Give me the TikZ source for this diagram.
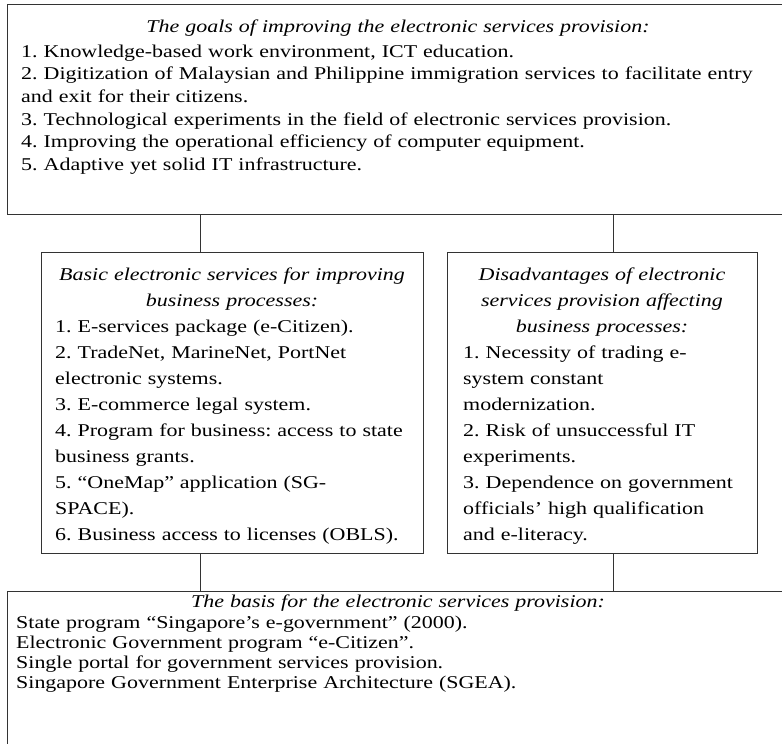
\documentclass[tikz,border=0pt]{standalone}
\usepackage{fontspec}
\setmainfont{Liberation Serif}[FakeStretch=1.22]
\usepackage{tikz}

\newcommand{\pitch}[1]{\fontsize{18}{#1}\selectfont\frenchspacing}
\newcommand{\firstline}{\rule{0pt}{16pt}}

\begin{document}
\begin{tikzpicture}[x=1pt,y=-1pt,
	box/.style={draw=black!80,line width=0.9pt,anchor=north west,inner sep=0pt},
	head/.style={anchor=north,align=center,inner sep=0pt,text width=#1},
	list/.style={anchor=north west,align=left,inner sep=0pt,text width=#1},
	link/.style={draw=black!80,line width=0.9pt}]
	\useasboundingbox (0,0) rectangle (782,744);
	\clip (0,0) rectangle (782,744);

	% frames
	\node (goals) at (7,4) [box,minimum width=800,minimum height=210] {};
	\node (basic) at (40.7,252) [box,minimum width=382.3,minimum height=301] {};
	\node (disadv) at (447,252) [box,minimum width=310,minimum height=301] {};
	\node (basis) at (7,591) [box,minimum width=800,minimum height=200] {};

	% texts
	\node (goalsHead) at (398,16) [head=740,font=\pitch{22.6}\itshape] {\firstline The goals of improving the electronic services provision:};
	\node (goalsList) at (21,41) [list=800,font=\pitch{22.6}] {\firstline 1. Knowledge-based work environment, ICT education.\\
		2. Digitization of Malaysian and Philippine immigration services to facilitate entry\\
		and exit for their citizens.\\
		3. Technological experiments in the field of electronic services provision.\\
		4. Improving the operational efficiency of computer equipment.\\
		5. Adaptive yet solid IT infrastructure.};

	\node (basicHead) at (232,264) [head=400,font=\pitch{26}\itshape] {\firstline Basic electronic services for improving\\ business processes:};
	\node (basicList) at (55,316) [list=450,font=\pitch{26}] {\firstline 1. E-services package (e-Citizen).\\
		2. TradeNet, MarineNet, PortNet\\
		electronic systems.\\
		3. E-commerce legal system.\\
		4. Program for business: access to state\\
		business grants.\\
		5. “OneMap” application (SG-\\
		SPACE).\\
		6. Business access to licenses (OBLS).};

	\node (disadvHead) at (602,264) [head=340,font=\pitch{26}\itshape] {\firstline Disadvantages of electronic\\ services provision affecting\\ business processes:};
	\node (disadvList) at (463,342) [list=360,font=\pitch{26}] {\firstline 1. Necessity of trading e-\\
		system constant\\
		modernization.\\
		2. Risk of unsuccessful IT\\
		experiments.\\
		3. Dependence on government\\
		officials’ high qualification\\
		and e-literacy.};

	\node (basisHead) at (398,591) [head=740,font=\pitch{20}\itshape] {\firstline The basis for the electronic services provision:};
	\node (basisList) at (16,612) [list=780,font=\pitch{20}] {\firstline State program “Singapore’s e-government” (2000).\\
		Electronic Government program “e-Citizen”.\\
		Single portal for government services provision.\\
		Singapore Government Enterprise Architecture (SGEA).};

	% connectors
	\coordinate (lk) at (200,0);
	\coordinate (rk) at (613,0);
	\draw[link] (goals.south -| lk) -- (basic.north -| lk);
	\draw[link] (goals.south -| rk) -- (disadv.north -| rk);
	\draw[link] (basic.south -| lk) -- (basis.north -| lk);
	\draw[link] (disadv.south -| rk) -- (basis.north -| rk);
\end{tikzpicture}
\end{document}
